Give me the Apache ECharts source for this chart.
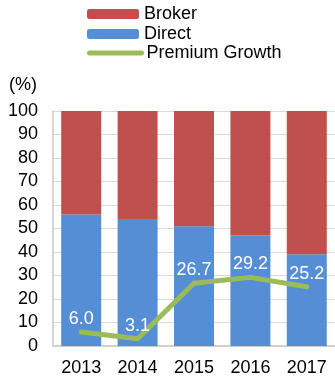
<!DOCTYPE html>
<html><head><meta charset="utf-8">
<script src="https://cdn.jsdelivr.net/npm/echarts@6/dist/echarts.min.js"></script>
<style>html,body{margin:0;padding:0;background:#fff}#c{width:335px;height:379px}</style>
</head><body><div id="c"></div>
<script>
const categories = ['2013', '2014', '2015', '2016', '2017'];
const direct = [56, 54, 51, 47, 39];
const broker = [44, 46, 49, 53, 61];
const premiumGrowth = [6.0, 3.1, 26.7, 29.2, 25.2];
const yTicks = [0, 100, 10];

const FONT = 'Liberation Sans, Arial, sans-serif';
const chart = echarts.init(document.getElementById('c'));
const legendBase = {
  left: 87, orient: 'vertical', itemWidth: 52, itemHeight: 10, itemGap: 0, padding: 0,
  textStyle: { fontFamily: FONT, fontSize: 18, color: '#000' },
  lineStyle: { width: 5, cap: 'round' },
  selectedMode: false
};
chart.setOption({
  animation: false,
  textStyle: { fontFamily: FONT },
  title: { text: '(%)', left: 9, top: 76, padding: 0, textStyle: { fontFamily: FONT, fontSize: 18, fontWeight: 'normal', color: '#000' } },
  legend: [
    Object.assign({}, legendBase, { top: 5, data: ['Broker'] }),
    Object.assign({}, legendBase, { top: 25, data: ['Direct'] }),
    Object.assign({}, legendBase, { top: 44, data: [{ name: 'Premium Growth', itemStyle: { color: 'rgba(0,0,0,0)', borderWidth: 0 } }] })
  ],
  grid: { left: 53, right: -6, top: 111, bottom: 33 },
  xAxis: {
    type: 'category', data: categories,
    axisLine: { lineStyle: { color: '#c8c8c8', width: 1.5 } },
    axisTick: { show: false },
    axisLabel: { fontFamily: FONT, fontSize: 18, color: '#000', margin: 13 }
  },
  yAxis: {
    type: 'value', min: yTicks[0], max: yTicks[1], interval: yTicks[2],
    axisLine: { show: true, lineStyle: { color: '#c8c8c8', width: 1.5 } },
    axisTick: { show: false },
    splitLine: { lineStyle: { color: '#d9d9d9', width: 1 } },
    axisLabel: { fontFamily: FONT, fontSize: 18, color: '#000', margin: 15 }
  },
  series: [
    { name: 'Direct', type: 'bar', stack: 's', data: direct, barWidth: 40, itemStyle: { color: '#558ED5' } },
    { name: 'Broker', type: 'bar', stack: 's', data: broker, barWidth: 40, itemStyle: { color: '#C0504D' } },
    { name: 'Premium Growth', type: 'line', data: premiumGrowth, symbol: 'circle', symbolSize: 0, showSymbol: true,
      lineStyle: { color: '#9BBB59', width: 5, cap: 'round', join: 'round' },
      itemStyle: { color: '#9BBB59' },
      labelLayout: { hideOverlap: false },
      label: { show: true, position: 'top', distance: 4, color: '#fff', fontFamily: FONT, fontSize: 18,
        formatter: p => p.value.toFixed(1) } }
  ]
});
</script></body></html>
